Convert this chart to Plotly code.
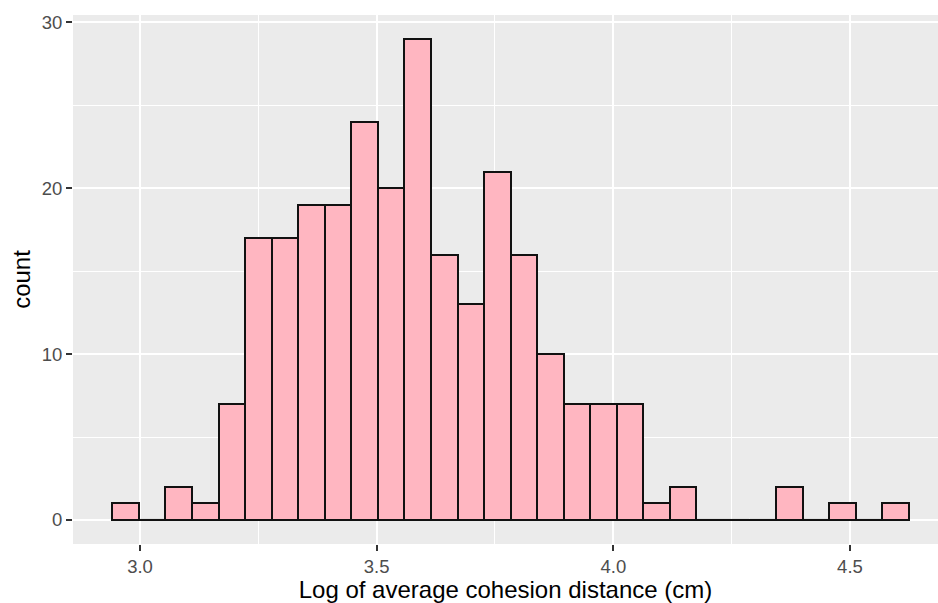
import plotly.graph_objects as go

# Histogram data (30 bins)
bin_start = 2.9415
bin_width = 0.0561
counts = [1, 0, 2, 1, 7, 17, 17, 19, 19, 24, 20, 29, 16, 13, 21,
          16, 10, 7, 7, 7, 1, 2, 0, 0, 0, 2, 0, 1, 0, 1]
x_tick_vals = [3.0, 3.5, 4.0, 4.5]
x_tick_text = ["3.0", "3.5", "4.0", "4.5"]
y_tick_vals = [0, 10, 20, 30]
x_title = "Log of average cohesion distance (cm)"
y_title = "count"

centers = [bin_start + bin_width * (i + 0.5) for i in range(len(counts))]

fig = go.Figure()
fig.add_trace(go.Bar(
    x=centers, y=counts, width=[bin_width] * len(counts),
    marker=dict(color="#FFB6C1", line=dict(color="#111111", width=2)),
    showlegend=False,
))
# zero-height bins drawn as outline at baseline (as ggplot does)
for c, n in zip(centers, counts):
    if n == 0:
        fig.add_trace(go.Scatter(
            x=[c - bin_width / 2, c + bin_width / 2], y=[0, 0], mode="lines",
            line=dict(color="#111111", width=2), showlegend=False, hoverinfo="skip"))

fig.update_layout(
    width=938, height=603,
    margin=dict(l=73, r=0, t=15, b=59),
    paper_bgcolor="white", plot_bgcolor="#EBEBEB",
    font=dict(family="Liberation Sans, Arial, sans-serif"),
    bargap=0,
    xaxis=dict(
        range=[2.8584, 4.686], tickvals=x_tick_vals, ticktext=x_tick_text,
        showgrid=True, gridcolor="white", gridwidth=2, zeroline=False,
        ticks="outside", ticklen=6, tickwidth=2, tickcolor="#333333",
        tickfont=dict(size=18.5, color="#4D4D4D"),
        minor=dict(dtick=0.25, tick0=2.75, showgrid=True, gridcolor="white", gridwidth=1, ticks=""),
        title=dict(text=x_title, font=dict(size=24, color="black"), standoff=2),
    ),
    yaxis=dict(
        range=[-1.45, 30.45], tickvals=y_tick_vals,
        showgrid=True, gridcolor="white", gridwidth=2, zeroline=False,
        ticks="outside", ticklen=6, tickwidth=2, tickcolor="#333333",
        tickfont=dict(size=18.5, color="#4D4D4D"),
        minor=dict(dtick=5, tick0=0, showgrid=True, gridcolor="white", gridwidth=1, ticks=""),
        title=dict(text=y_title, font=dict(size=24, color="black"), standoff=4),
    ),
)
fig.write_html("out.html")
